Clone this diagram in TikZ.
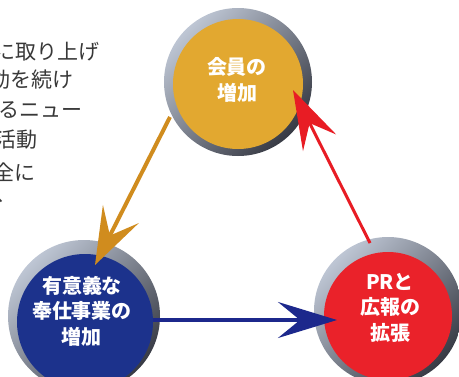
\documentclass[tikz,border=0pt]{standalone}
\usepackage{fontspec}
\newfontfamily\cjk{Noto Sans CJK JP}
\usetikzlibrary{arrows.meta}
\definecolor{goldc}{RGB}{226,168,48}
\definecolor{bluec}{RGB}{28,50,140}
\definecolor{redc}{RGB}{234,34,42}
\definecolor{ringlight}{RGB}{190,198,212}
\definecolor{ringdark}{RGB}{55,58,68}
\definecolor{garrow}{RGB}{208,140,30}
\definecolor{rarrow}{RGB}{232,28,36}
\definecolor{barrow}{RGB}{28,40,140}
\begin{document}
\begin{tikzpicture}[x=1pt,y=-1pt,
  ring/.style={circle, inner sep=0, top color=ringlight, bottom color=ringdark, shading angle=45},
  disk/.style={circle, inner sep=0},
  lbl/.style={font=\cjk\bfseries\fontsize{20}{25.5}\selectfont, text=white, align=center, inner sep=0},
  side/.style={font=\cjk\fontsize{21}{24}\selectfont, text=black!78, anchor=east, inner sep=0},
]
\clip (0,0) rectangle (459,376);
\fill[white] (0,0) rectangle (459,376);

% side text
\node[side] (t1) at (100,52) {に取り上げ};
\node[side] (t2) at (74,80) {動を続け};
\node[side] (t3) at (83,110) {るニュー};
\node[side] (t4) at (38,140) {活動};
\node[side] (t5) at (36,172) {全に};
\node[side] (t6) at (17,200) {、};

% circles
\node[ring, minimum size=148pt] (goldring) at (238,82) {};
\node[disk, fill=goldc, minimum size=130pt] (gold) at (238,84) {};
\node[ring, minimum size=152pt] (bluering) at (84,316) {};
\node[disk, fill=bluec, minimum size=136pt] (blue) at (85,322) {};
\node[ring, minimum size=148pt] (redring) at (388,311) {};
\node[disk, fill=redc, minimum size=128pt] (red) at (388,316) {};

\node[lbl] (goldtxt) at (237,80) {会員の\\増加};
\node[lbl] (bluetxt) at (82,311) {有意義な\\奉仕事業の\\増加};
\node[lbl] (redtxt) at (390,307.5) {PRと\\広報の\\拡張};

% arrows
\coordinate (g1) at (170,117);
\coordinate (g2) at (95,265);
\coordinate (r1) at (370,243);
\coordinate (r2) at (293,90);
\coordinate (b1) at (153,320);
\coordinate (b2) at (337,320);
\draw[garrow, line width=4pt, -{Stealth[length=57pt, width=40pt, inset=24pt]}] (g1) -- (g2);
\draw[rarrow, line width=3pt, -{Stealth[length=59pt, width=37pt, inset=22pt]}] (r1) -- (r2);
\draw[barrow, line width=3.5pt, -{Stealth[length=59pt, width=36pt, inset=22pt]}] (b1) -- (b2);
\end{tikzpicture}
\end{document}
